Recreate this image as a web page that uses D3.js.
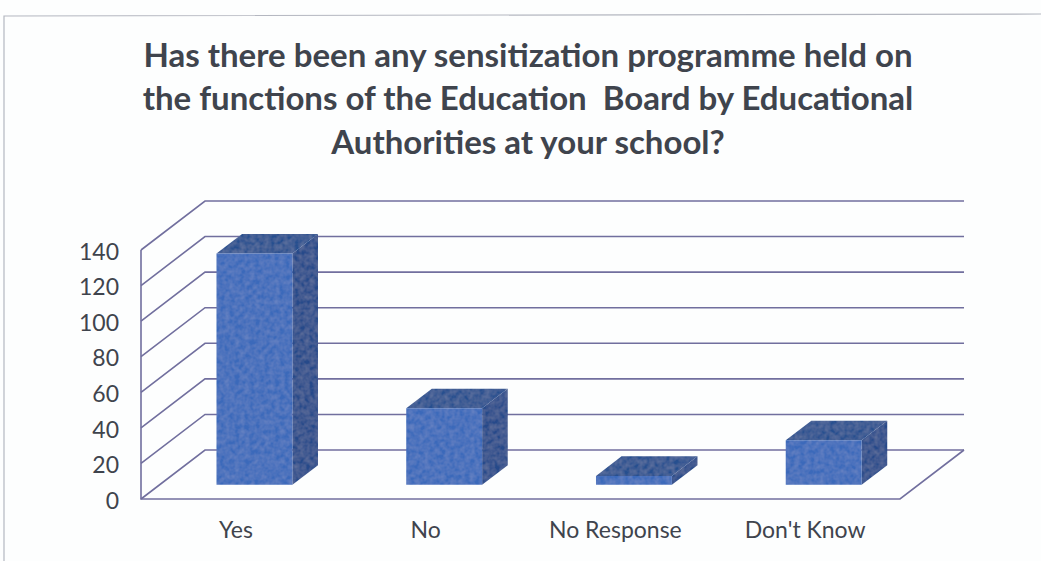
<!DOCTYPE html>
<html><head><meta charset="utf-8">
<script src="https://cdn.jsdelivr.net/npm/d3@7/dist/d3.min.js"></script>
<style>html,body{margin:0;padding:0;background:#fdfefe;overflow:hidden}svg{display:block}</style>
</head><body><svg id="c" width="1041" height="561"></svg>
<script>
const titleLines = ["Has there been any sensitization programme held on","the functions of the Education  Board by Educational","Authorities at your school?"];
const categories = ["Yes","No","No Response","Don't Know"];
const values = [130,43,5,25];
const yTicks = [0,20,40,60,80,100,120,140];

const W=1041,H=561;
const svg=d3.select("#c");
const defs=svg.append("defs");
const f=defs.append("filter").attr("id","grain").attr("x","0").attr("y","0").attr("width","1").attr("height","1");
f.append("feTurbulence").attr("type","fractalNoise").attr("baseFrequency","0.2").attr("numOctaves","2").attr("seed","4").attr("result","n");
f.append("feColorMatrix").attr("in","n").attr("type","matrix").attr("values","0 0 0 0 1  0 0 0 0 1  0 0 0 0 1  0.14 0 0 0 -0.035").attr("result","g");
f.append("feComposite").attr("in","g").attr("in2","SourceGraphic").attr("operator","atop").attr("result","t");
f.append("feGaussianBlur").attr("in","t").attr("stdDeviation","0.4");

const font="Lato, 'Open Sans', sans-serif", ink="#3f444d", gridCol="#716f9e";
// frame
svg.append("path").attr("d",d3.line()([[4,H],[4,16],[W,14]])).attr("fill","none").attr("stroke","#b4b7c0").attr("stroke-width",1.2);
// title
svg.append("g").selectAll("text").data(titleLines).join("text")
 .attr("x",528).attr("y",(d,i)=>67+i*43.3).attr("text-anchor","middle")
 .attr("font-family",font).attr("font-weight",700).attr("font-size",33).attr("fill",ink)
 .attr("xml:space","preserve").style("white-space","pre").text(d=>d);

const y=d3.scaleLinear().domain([0,140]).range([499,250]);
const x=d3.scaleBand().domain(categories).range([141,900]).paddingInner(0.6).paddingOuter(0.3);
const depth={dx:64,dy:-49};
const barDepth=0.4, barOffset=0.29;
const line=d3.line();

// grid
const g=svg.append("g").attr("fill","none").attr("stroke",gridCol).attr("stroke-width",1.6);
g.selectAll("path.grid").data(yTicks).join("path").attr("class","grid")
 .attr("d",t=>line([[x.range()[0],y(t)],[x.range()[0]+depth.dx,y(t)+depth.dy],[x.range()[1]+depth.dx,y(t)+depth.dy]]));
g.append("path").attr("d",line([[x.range()[0],y(140)],[x.range()[0],y(0)],[x.range()[1],y(0)],[x.range()[1]+depth.dx,y(0)+depth.dy]]));

// bars
const bars=svg.append("g").selectAll("g").data(categories.map((c,i)=>({c,v:values[i]}))).join("g").attr("filter","url(#grain)");
const ox=depth.dx*barOffset, oy=depth.dy*barOffset, bx=depth.dx*barDepth, by=depth.dy*barDepth;
bars.each(function(d){
  const s=d3.select(this), l=x(d.c)+ox, r=l+x.bandwidth(), b=y(0)+oy, t=y(d.v)+oy;
  s.append("path").attr("fill","#264a8a").attr("d",line([[r,b],[r+bx,b+by],[r+bx,t+by],[r,t]])+"Z");
  s.append("path").attr("fill","#28508f").attr("d",line([[l,t],[r,t],[r+bx,t+by],[l+bx,t+by]])+"Z");
  s.append("path").attr("fill","#3a69ba").attr("d",line([[l,t],[r,t],[r,b],[l,b]])+"Z");
});

// axes
const ya=svg.append("g").attr("transform","translate(119,0)").call(d3.axisLeft(y).tickValues(yTicks).tickSize(0).tickPadding(0));
ya.select(".domain").remove();
ya.selectAll("text").attr("font-family",font).attr("font-size",23).attr("fill",ink).attr("dy","0.4em");
const xa=svg.append("g").attr("transform","translate(0,521)").call(d3.axisBottom(x).tickSize(0).tickPadding(0));
xa.select(".domain").remove();
xa.selectAll("text").attr("font-family",font).attr("font-size",23).attr("fill",ink).attr("dy","0.75em");
</script></body></html>
